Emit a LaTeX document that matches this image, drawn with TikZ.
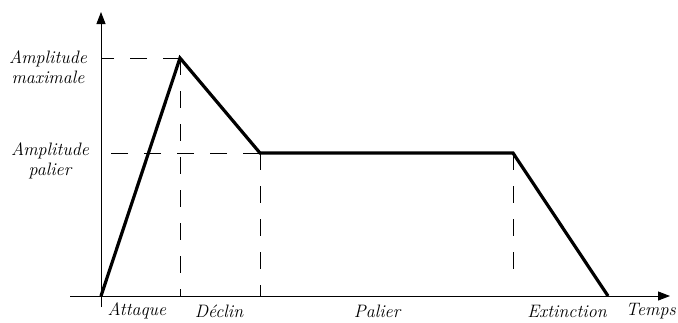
\documentclass[tikz,border=0pt]{standalone}
\usepackage{fontspec}
\usetikzlibrary{arrows.meta}
\begin{document}
\begin{tikzpicture}[x=1pt,y=-1pt,
  axis/.style={line width=1pt,-{Triangle[length=12pt,width=9pt]}},
  guide/.style={line width=0.9pt,dash pattern=on 17pt off 16pt},
  env/.style={line width=3.2pt,line join=miter,line cap=butt},
  lab/.style={font=\fontsize{18}{20}\selectfont\itshape,inner sep=0pt,align=center}]
\useasboundingbox (0,0) rectangle (678,322);
\coordinate (O) at (101,296);
\coordinate (P) at (180,58);
\coordinate (D) at (260,153);
\coordinate (S) at (513,153);
\coordinate (R) at (608,296);
\coordinate (xs) at (70,296);
\coordinate (xe) at (670,296);
\coordinate (ys) at (101,307);
\coordinate (ye) at (101,12);
\coordinate (Ym) at (101,58);
\coordinate (Yp) at (101,153);
\coordinate (P0) at (180,296);
\coordinate (D0) at (260,296);
\coordinate (S0) at (513,283);
% axes
\draw[axis] (xs) -- (xe);
\draw[axis] (ys) -- (ye);
% guides
\draw[guide] (P) -- (Ym);
\draw[guide] (D) -- (Yp);
\draw[guide] (P) -- (P0);
\draw[guide] (D) -- (D0);
\draw[guide] (S) -- (S0);
% envelope
\draw[env] (O) -- (P) -- (D) -- (S) -- (R);
% labels
\node[lab] (lmax) at (48,67) {Amplitude\\maximale};
\node[lab] (lpal) at (50,161) {Amplitude\\palier};
\node[lab] (la) at (137,311) {Attaque};
\node[lab] (ld) at (219,311) {Déclin};
\node[lab] (lp) at (377,311) {Palier};
\node[lab] (le) at (567,311) {Extinction};
\node[lab,anchor=east] (lt) at (676,311) {Temps};
\end{tikzpicture}
\end{document}
